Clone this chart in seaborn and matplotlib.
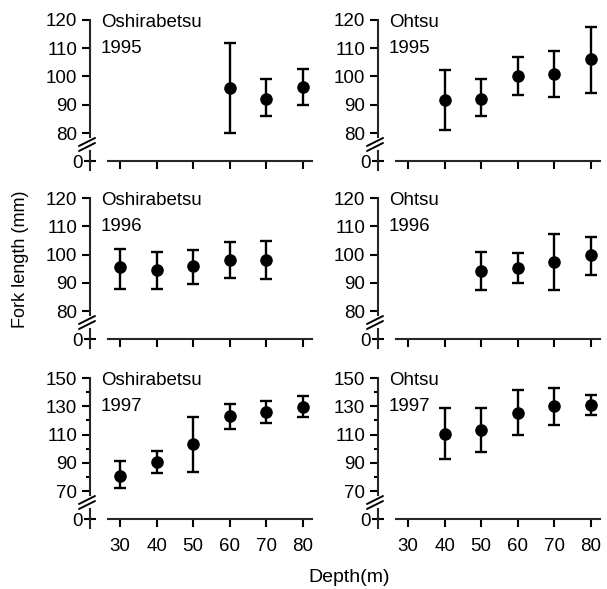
import numpy as np
import pandas as pd
import matplotlib
matplotlib.use("Agg")
import matplotlib.pyplot as plt
import seaborn as sns
from matplotlib.lines import Line2D
from matplotlib.ticker import FixedLocator
import matplotlib.transforms as mtransforms

sns.set_style("ticks")
plt.rcParams["font.family"] = ["Liberation Sans", "DejaVu Sans"]

# ---------------- data ----------------
sites = ["Oshirabetsu", "Ohtsu"]
years = ["1995", "1996", "1997"]
depth_ticks = [30, 40, 50, 60, 70, 80]

osh95_depth = [60, 70, 80]
osh95_mean = [96.0, 92.2, 96.2]
osh95_lo = [80.0, 86.0, 90.0]
osh95_hi = [112.0, 99.0, 102.5]

oht95_depth = [40, 50, 60, 70, 80]
oht95_mean = [91.6, 92.2, 100.0, 101.0, 106.2]
oht95_lo = [81.0, 86.0, 93.3, 92.7, 94.3]
oht95_hi = [102.2, 99.0, 106.8, 108.9, 117.4]

osh96_depth = [30, 40, 50, 60, 70]
osh96_mean = [95.4, 94.6, 95.8, 98.2, 98.2]
osh96_lo = [87.9, 87.9, 89.6, 91.8, 91.3]
osh96_hi = [102.1, 101.0, 101.5, 104.3, 104.9]

oht96_depth = [50, 60, 70, 80]
oht96_mean = [94.0, 95.2, 97.4, 99.8]
oht96_lo = [87.3, 90.0, 87.6, 92.9]
oht96_hi = [100.9, 100.4, 107.3, 106.3]

osh97_depth = [30, 40, 50, 60, 70, 80]
osh97_mean = [80.9, 90.4, 103.2, 123.4, 125.7, 129.3]
osh97_lo = [72.4, 82.6, 83.8, 113.9, 117.9, 122.2]
osh97_hi = [91.3, 98.5, 122.2, 131.7, 134.0, 137.1]

oht97_depth = [40, 50, 60, 70, 80]
oht97_mean = [110.3, 113.2, 125.3, 130.0, 131.2]
oht97_lo = [92.5, 97.3, 109.8, 116.7, 124.1]
oht97_hi = [128.8, 128.6, 141.6, 143.0, 138.3]

yticks_95_96 = [80, 90, 100, 110, 120]
yticks_97 = [70, 90, 110, 130, 150]
yminor_97 = [80, 100, 120, 140]

panels = [
    (0, 0, osh95_depth, osh95_mean, osh95_lo, osh95_hi),
    (1, 0, oht95_depth, oht95_mean, oht95_lo, oht95_hi),
    (0, 1, osh96_depth, osh96_mean, osh96_lo, osh96_hi),
    (1, 1, oht96_depth, oht96_mean, oht96_lo, oht96_hi),
    (0, 2, osh97_depth, osh97_mean, osh97_lo, osh97_hi),
    (1, 2, oht97_depth, oht97_mean, oht97_lo, oht97_hi),
]

# ---------------- layout (pixels) ----------------
W, H = 607, 589
fig = plt.figure(figsize=(W / 100, H / 100), dpi=100)

col_left = [90, 378]
ax_w = 222
row_top = [20, 198, 378]
XLIM = (21.8, 82.5)
XSPINE = (26.7, 82.5)
FS = 13.5
LW = 1.5


def frac_rect(left, top, width, height):
    return [left / W, 1 - (top + height) / H, width / W, height / H]


for col, row, dep, mean, lo, hi in panels:
    T = row_top[row]
    L = col_left[col]
    if row < 2:
        ytop, yref, ticks, minor = 120, 80, yticks_95_96, []
    else:
        ytop, yref, ticks, minor = 150, 70, yticks_97, yminor_97
    up_h = 117
    ylo = ytop - up_h * (ytop - yref) / 113.0

    axu = fig.add_axes(frac_rect(L, T, ax_w, up_h))
    axl = fig.add_axes(frac_rect(L, T + 131, ax_w, 19))

    df = pd.DataFrame({"depth": dep, "mean": mean, "lo": lo, "hi": hi})
    axu.errorbar(df["depth"], df["mean"],
                 yerr=[df["mean"] - df["lo"], df["hi"] - df["mean"]],
                 fmt="none", ecolor="black", elinewidth=1.7, capsize=4.3,
                 capthick=1.7, clip_on=False, zorder=2)
    sns.scatterplot(data=df, x="depth", y="mean", ax=axu, color="black",
                    s=82, linewidth=0, zorder=3, legend=False, clip_on=False)

    # upper axes
    axu.set_xlim(*XLIM)
    axu.set_ylim(ylo, ytop)
    axu.set_xlabel("")
    axu.set_ylabel("")
    for s in ["top", "right", "bottom"]:
        axu.spines[s].set_visible(False)
    axu.spines["left"].set_linewidth(LW)
    axu.set_xticks([])
    axu.set_yticks(ticks)
    axu.set_yticklabels([str(t) for t in ticks])
    if minor:
        axu.yaxis.set_minor_locator(FixedLocator(minor))
        axu.tick_params(axis="y", which="minor", direction="out", length=2.6,
                        width=LW, color="black")
    axu.tick_params(axis="y", which="major", direction="out", length=5.8,
                    width=LW, pad=3.4, labelsize=FS, color="black",
                    labelcolor="black")
    axu.patch.set_alpha(0)

    # panel labels
    tr1 = mtransforms.offset_copy(axu.transAxes, fig=fig, x=11 * 0.72,
                                  y=-7.3 * 0.72, units="points")
    axu.text(0, 1, sites[col], transform=tr1, ha="left", va="baseline",
             fontsize=FS, color="black")
    tr2 = mtransforms.offset_copy(axu.transAxes, fig=fig, x=11 * 0.72,
                                  y=-32.7 * 0.72, units="points")
    axu.text(0, 1, years[row], transform=tr2, ha="left", va="baseline",
             fontsize=FS, color="black")

    # lower axes (only 0)
    axl.set_xlim(*XLIM)
    axl.set_ylim(-9, 10)
    for s in ["top", "right"]:
        axl.spines[s].set_visible(False)
    axl.spines["bottom"].set_position(("data", 0))
    axl.spines["bottom"].set_bounds(*XSPINE)
    axl.spines["bottom"].set_linewidth(LW)
    axl.spines["left"].set_linewidth(LW)
    axl.set_yticks([0])
    axl.set_yticklabels(["0"])
    axl.tick_params(axis="y", direction="inout", length=8, width=LW,
                    pad=1.2, labelsize=FS, color="black", labelcolor="black")
    axl.set_xticks(depth_ticks)
    axl.tick_params(axis="x", direction="out", length=6, width=LW,
                    pad=8, labelsize=FS, color="black", labelcolor="black")
    if row < 2:
        axl.set_xticklabels([])
    else:
        axl.set_xticklabels([str(d) for d in depth_ticks])
    axl.patch.set_alpha(0)

    # axis-break marks
    for yc in (T + 122, T + 127):
        xs = np.array([L - 11, L + 5]) / W
        ys = 1 - np.array([yc + 4, yc - 4]) / H
        fig.add_artist(Line2D(xs, ys, transform=fig.transFigure,
                              color="black", linewidth=1.4))

fig.text(349 / W, 1 - 578 / H, "Depth(m)", ha="center", va="center",
         fontsize=14, color="black")
fig.text(21 / W, 1 - 259 / H, "Fork length (mm)", ha="center", va="center",
         rotation=90, fontsize=13, color="black")

fig.savefig("out.png", dpi=100, facecolor="white")
